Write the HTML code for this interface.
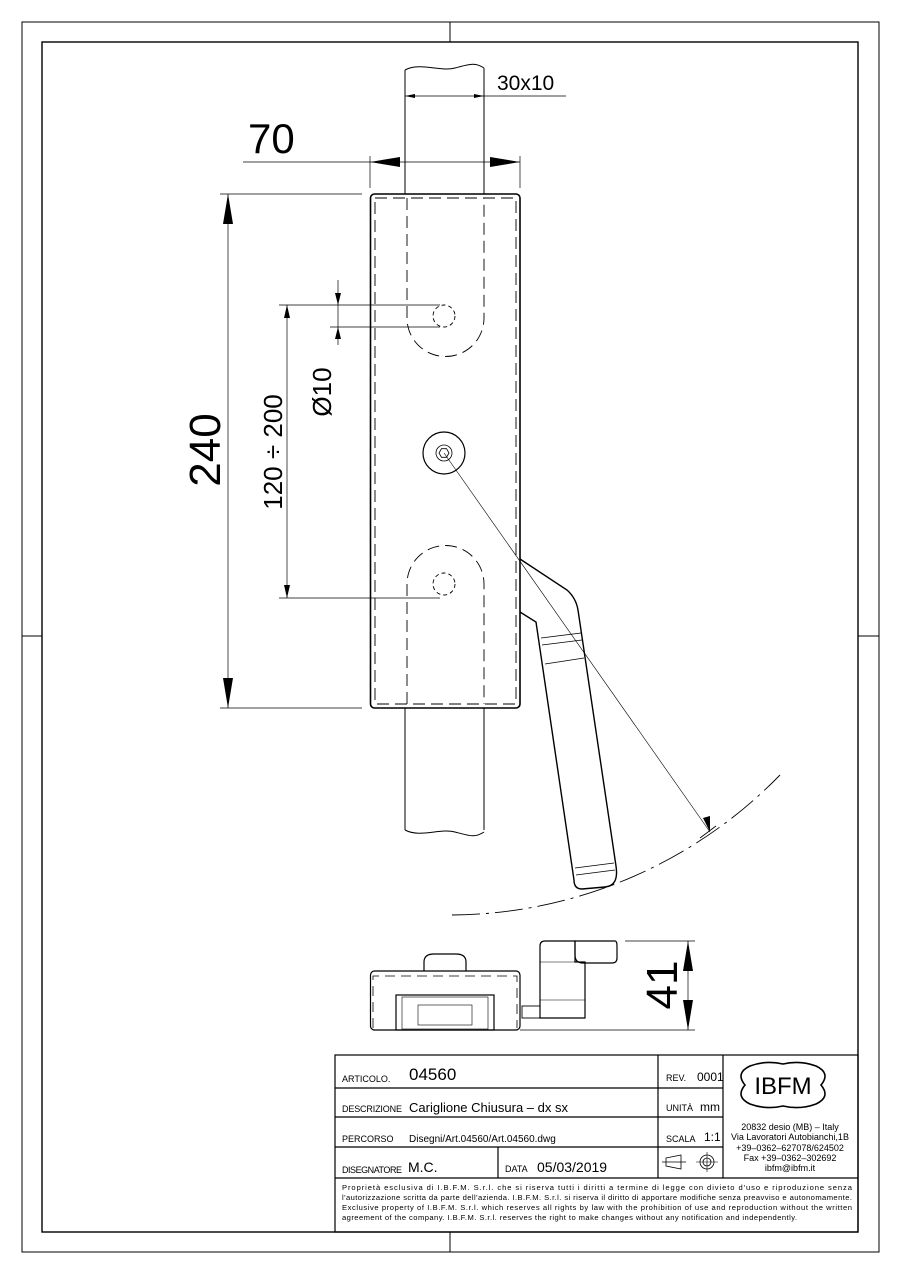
<!DOCTYPE html>
<html><head><style>html,body{margin:0;padding:0;background:#fff}svg{display:block}text{font-family:"Liberation Sans",sans-serif;fill:#000}</style></head>
<body>
<svg width="900" height="1273" viewBox="0 0 900 1273" xmlns="http://www.w3.org/2000/svg">
<g fill="none" stroke="#000">
<rect x="22" y="22" width="857" height="1230" stroke-width="1"/>
<rect x="42" y="42" width="816" height="1190" stroke-width="1.4"/>
<line x1="450" y1="22" x2="450" y2="42"/><line x1="450" y1="1232" x2="450" y2="1252"/>
<line x1="22" y1="636" x2="42" y2="636"/><line x1="858" y1="636" x2="879" y2="636"/>

<path d="M405 70 C420 62,440 72,455 68 S475 62,484 68" stroke-width="1"/>
<line x1="405" y1="70" x2="405" y2="194"/><line x1="484" y1="68" x2="484" y2="194"/>
<line x1="405" y1="708" x2="405" y2="830"/><line x1="484" y1="708" x2="484" y2="830"/>
<path d="M405 830 C420 838,440 828,455 832 S475 838,484 832"/>
<rect x="370.5" y="194" width="149.5" height="514" rx="4" stroke-width="1.6"/>
<g stroke-dasharray="12,6" stroke-width="0.9">
<rect x="375" y="198" width="141" height="506"/>
<path d="M407 198 V318 A38 38 0 0 0 484 318 V198"/>
<path d="M407 704 V584 A38 38 0 0 1 484 584 V704"/>
</g>
<g stroke-dasharray="4,3" stroke-width="0.9">
<circle cx="444" cy="316" r="11"/><circle cx="444" cy="584" r="11"/>
</g>
<circle cx="444" cy="453" r="21" stroke-width="1.2"/>
<circle cx="444" cy="453" r="8" stroke-width="0.8"/>
<polygon points="449,453 446.5,457.3 441.5,457.3 439,453 441.5,448.7 446.5,448.7" stroke-width="0.8"/>
<path d="M520 559 L567 590 Q576 598 578 610 L616 866 Q619 886 605 887 L582 889 Q574 889 574 880 L536 622 L520 612" stroke-width="1.4"/>
<line x1="541" y1="638" x2="581" y2="633" stroke-width="0.8"/><line x1="542" y1="645" x2="582" y2="640" stroke-width="0.8"/>
<line x1="545" y1="664" x2="584" y2="658" stroke-width="0.8"/>
<line x1="575" y1="868" x2="614" y2="863" stroke-width="0.8"/><line x1="576" y1="875" x2="615" y2="870" stroke-width="0.8"/>
<line x1="444" y1="453" x2="710" y2="832" stroke-width="0.6"/>
<path d="M452 915 A462 462 0 0 0 780 775" stroke-width="0.9" stroke-dasharray="28,6,3,6"/>
<line x1="700" y1="838" x2="716" y2="826" stroke-width="0.8"/>

<g stroke-width="0.7">
<line x1="405" y1="96" x2="566" y2="96"/>
<line x1="243" y1="162" x2="520" y2="162"/>
<line x1="370" y1="156" x2="370" y2="188"/><line x1="520" y1="156" x2="520" y2="188"/>
<line x1="228" y1="194" x2="228" y2="708"/>
<line x1="220" y1="194" x2="362" y2="194"/><line x1="220" y1="708" x2="362" y2="708"/>
<line x1="287" y1="305" x2="287" y2="598"/>
<line x1="279" y1="305" x2="440" y2="305"/><line x1="279" y1="598" x2="440" y2="598"/>
<line x1="338" y1="280" x2="338" y2="345"/>
<line x1="330" y1="327" x2="440" y2="327"/>
<line x1="625" y1="941" x2="695" y2="941"/><line x1="520" y1="1030" x2="695" y2="1030"/>
<line x1="688" y1="941" x2="688" y2="1030"/>
</g>
</g>
<g fill="#000">
<polygon points="370,162 400,157 400,167"/><polygon points="520,162 490,157 490,167"/>
<polygon points="405,96 415,94 415,98"/><polygon points="484,96 474,94 474,98"/>
<polygon points="228,194 223,224 233,224"/><polygon points="228,708 223,678 233,678"/>
<polygon points="287,305 284,318 290,318"/><polygon points="287,598 284,585 290,585"/>
<polygon points="338,305 335,293 341,293"/><polygon points="338,327 335,339 341,339"/>
<polygon points="688,941 683,971 693,971"/><polygon points="688,1030 683,1000 693,1000"/>
<polygon points="710,832 703,818 710,816"/>
</g>
<text x="497" y="90" font-size="21">30x10</text>
<text x="248" y="153" font-size="42">70</text>
<text transform="translate(220,450) rotate(-90)" font-size="44" text-anchor="middle">240</text>
<text transform="translate(282,452) rotate(-90)" font-size="26" text-anchor="middle">120 ÷ 200</text>
<text transform="translate(331,392) rotate(-90)" font-size="26" text-anchor="middle">Ø10</text>
<text transform="translate(677,985) rotate(-90)" font-size="44" text-anchor="middle">41</text>

<g fill="none" stroke="#000" stroke-width="1.2">
<rect x="370.5" y="971" width="149.5" height="59" rx="4"/>
<path d="M373 1028 V976 H517 V1028" stroke-dasharray="10,6" stroke-width="0.8"/>
<path d="M424 971 V962 Q424 954 434 954 H456 Q466 954 466 962 V971"/>
<rect x="396" y="995" width="98" height="35"/>
<rect x="402" y="997" width="86" height="32" stroke-width="0.6"/>
<rect x="418" y="1005" width="54" height="20" stroke-width="0.6"/>
<rect x="522" y="1006" width="18" height="12" stroke-width="0.9"/>
<path d="M540 1018 V946 Q540 941 545 941 H575 V962 H585 V1018 Z"/>
<path d="M575 941 H615 Q617 941 617 946 V958 Q617 963 612 963 H583 Q575 963 575 955 Z"/>
<line x1="540" y1="962" x2="575" y2="962" stroke-width="0.6"/>
<line x1="540" y1="1000" x2="585" y2="1000" stroke-width="0.6"/>
</g>

<g fill="none" stroke="#000" stroke-width="1.2">
<rect x="335" y="1055" width="523" height="177"/>
<line x1="335" y1="1088" x2="723" y2="1088"/>
<line x1="335" y1="1117" x2="723" y2="1117"/>
<line x1="335" y1="1147" x2="723" y2="1147"/>
<line x1="335" y1="1178" x2="858" y2="1178"/>
<line x1="658" y1="1055" x2="658" y2="1178"/>
<line x1="723" y1="1055" x2="723" y2="1178"/>
<line x1="498" y1="1147" x2="498" y2="1178"/>
<path d="M745 1085 Q735 1073 750 1066 Q766 1060 783 1064 Q800 1060 816 1066 Q831 1073 821 1085 Q831 1097 816 1104 Q800 1110 783 1106 Q766 1110 750 1104 Q735 1097 745 1085 Z" stroke-width="1.6"/>
<path d="M666 1158 L681 1155 V1169 L666 1166 Z M662 1162 H686" stroke-width="0.8"/>
<circle cx="707" cy="1162" r="7" stroke-width="0.8"/><circle cx="707" cy="1162" r="4" stroke-width="0.8"/>
<line x1="696" y1="1162" x2="718" y2="1162" stroke-width="0.6"/><line x1="707" y1="1152" x2="707" y2="1172" stroke-width="0.6"/>
</g>
<g font-size="9">
<text x="342" y="1082">ARTICOLO.</text>
<text x="409" y="1080" font-size="17">04560</text>
<text x="342" y="1112" textLength="60">DESCRIZIONE</text>
<text x="409" y="1112" font-size="13">Cariglione Chiusura – dx sx</text>
<text x="342" y="1142">PERCORSO</text>
<text x="409" y="1142" font-size="10">Disegni/Art.04560/Art.04560.dwg</text>
<text x="342" y="1173" textLength="60">DISEGNATORE</text>
<text x="408" y="1172" font-size="14">M.C.</text>
<text x="505" y="1172">DATA</text>
<text x="537" y="1172" font-size="14">05/03/2019</text>
<text x="666" y="1081">REV.</text><text x="697" y="1081" font-size="12">0001</text>
<text x="666" y="1111">UNITÀ</text><text x="700" y="1111" font-size="12">mm</text>
<text x="666" y="1142">SCALA</text><text x="704" y="1141" font-size="12">1:1</text>
<text x="783" y="1094" font-size="24" text-anchor="middle" font-family="Liberation Serif">IBFM</text>
<g font-size="9" text-anchor="middle">
<text x="790" y="1130">20832 desio (MB) – Italy</text>
<text x="790" y="1140">Via Lavoratori Autobianchi,1B</text>
<text x="790" y="1151">+39–0362–627078/624502</text>
<text x="790" y="1161">Fax +39–0362–302692</text>
<text x="790" y="1171">ibfm@ibfm.it</text>
</g>
<g font-size="7.6">
<text x="342" y="1190" textLength="510">Proprietà esclusiva di I.B.F.M. S.r.l. che si riserva tutti i diritti a termine di legge con divieto d'uso e riproduzione senza</text>
<text x="342" y="1200" textLength="510">l'autorizzazione scritta da parte dell'azienda. I.B.F.M. S.r.l. si riserva il diritto di apportare modifiche senza preavviso e autonomamente.</text>
<text x="342" y="1210" textLength="510">Exclusive property of I.B.F.M. S.r.l. which reserves all rights by law with the prohibition of use and reproduction without the written</text>
<text x="342" y="1220" textLength="455">agreement of the company. I.B.F.M. S.r.l. reserves the right to make changes without any notification and independently.</text>
</g>
</g>
</svg>
</body></html>
